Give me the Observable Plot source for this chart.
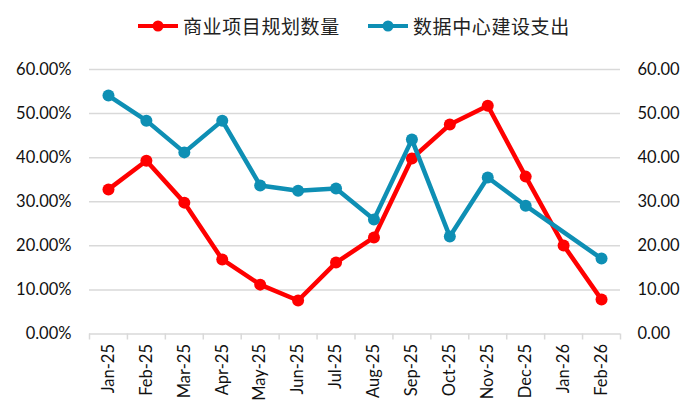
<!DOCTYPE html>
<html>
<head>
<meta charset="utf-8">
<script src="https://cdn.jsdelivr.net/npm/d3@7"></script>
<script src="https://cdn.jsdelivr.net/npm/@observablehq/plot@0.6"></script>
<style>
  body { margin: 0; background: #fff; }
  #legend { height: 50px; position: relative; font-family: "Noto Sans CJK SC", sans-serif; font-size: 19px; color: #222; }
  .item { position: absolute; top: 12px; display: flex; align-items: center; letter-spacing: 0.6px; }
  .item svg { margin-right: 5px; }
  #chart svg { display: block; }
</style>
</head>
<body>
<div id="legend"></div>
<div id="chart"></div>
<script>
const months = ["Jan-25","Feb-25","Mar-25","Apr-25","May-25","Jun-25","Jul-25","Aug-25","Sep-25","Oct-25","Nov-25","Dec-25","Jan-26","Feb-26"];
const seriesNames = ["商业项目规划数量", "数据中心建设支出"];
const seriesColors = ["#FF0000", "#0E8FB4"];
const planCount = [32.8, 39.3, 29.8, 16.9, 11.2, 7.6, 16.2, 21.9, 39.8, 47.5, 51.8, 35.7, 20.1, 7.8];
const dcSpend = [54.1, 48.4, 41.2, 48.4, 33.7, 32.5, 33.0, 26.0, 44.1, 22.1, 35.5, 29.1, null, 17.1];
const yTicks = [0, 10, 20, 30, 40, 50, 60];

const red = months.map((m, i) => ({i, v: planCount[i]})).filter(d => d.v != null);
const teal = months.map((m, i) => ({i, v: dcSpend[i]})).filter(d => d.v != null);
const idx = d3.range(months.length);
const bounds = d3.range(months.length + 1).map(k => k - 0.5);

const font = "Lato, 'Open Sans', sans-serif";

// legend
const legend = document.getElementById("legend");
const lefts = [138, 368];
seriesNames.forEach((name, k) => {
  const div = document.createElement("div");
  div.className = "item";
  div.style.left = lefts[k] + "px";
  div.innerHTML = `<svg width="40" height="14"><line x1="0" y1="7" x2="40" y2="7" stroke="${seriesColors[k]}" stroke-width="4"/><circle cx="20" cy="7" r="5.5" fill="${seriesColors[k]}"/></svg><span>${name}</span>`;
  legend.appendChild(div);
});

const chart = Plot.plot({
  width: 700,
  height: 369,
  marginTop: 19,
  marginBottom: 85.5,
  marginLeft: 89,
  marginRight: 80,
  style: {fontFamily: font, fontSize: "16px", color: "#111", background: "#fff"},
  x: {domain: [-0.5, months.length - 0.5]},
  y: {domain: [0, 60]},
  marks: [
    Plot.gridY(yTicks.filter(t => t > 0), {stroke: "#d9d9d9", strokeOpacity: 1, strokeWidth: 1.5}),
    Plot.ruleY([0], {stroke: "#d9d9d9", strokeWidth: 1.5}),
    Plot.axisY({ticks: yTicks, anchor: "left", tickSize: 0, tickPadding: 18, tickFormat: d => d.toFixed(2) + "%", fontSize: 16.5, label: null}),
    Plot.axisY({ticks: yTicks, anchor: "right", tickSize: 0, tickPadding: 17, tickFormat: d => d.toFixed(2), fontSize: 16.5, label: null}),
    Plot.axisX({ticks: bounds, tickSize: 6, tickFormat: () => "", stroke: "#d9d9d9", strokeWidth: 1.5, label: null}),
    Plot.axisX({ticks: idx, tickSize: 0, tickPadding: 10, tickRotate: -90, tickFormat: i => months[i], fontSize: 16.5, label: null}),
    Plot.line(red, {x: "i", y: "v", stroke: seriesColors[0], strokeWidth: 4.5}),
    Plot.dot(red, {x: "i", y: "v", r: 6, fill: seriesColors[0]}),
    Plot.line(teal, {x: "i", y: "v", stroke: seriesColors[1], strokeWidth: 4.5}),
    Plot.dot(teal, {x: "i", y: "v", r: 6, fill: seriesColors[1]})
  ]
});
document.getElementById("chart").appendChild(chart);
</script>
</body>
</html>
